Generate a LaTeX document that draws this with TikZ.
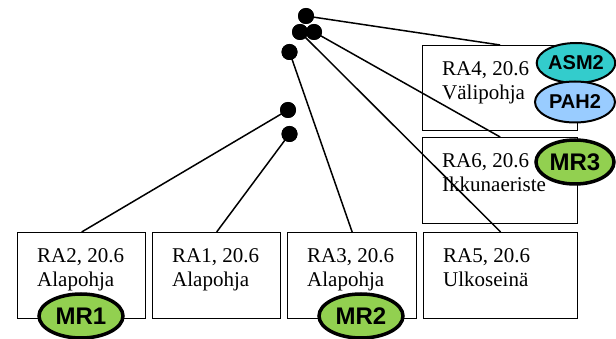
\documentclass[tikz,border=0pt]{standalone}
\usepackage{fontspec}
\setmainfont{Liberation Serif}
\newfontfamily\arialf{Liberation Sans}
\usetikzlibrary{shapes.geometric}
\definecolor{tealfill}{RGB}{51,204,204}
\definecolor{lbluefill}{RGB}{153,204,255}
\definecolor{mrgreen}{RGB}{146,208,80}
\begin{document}
\begin{tikzpicture}[x=1pt,y=-1pt,
  boxnode/.style={draw,line width=1.3pt,anchor=north west,inner sep=0pt},
  lbl/.style={anchor=base west,align=left,inner sep=0pt,font=\fontsize{21}{24}\selectfont},
  dotnode/.style={circle,fill=black,inner sep=0pt,minimum size=16pt},
  conn/.style={line width=1.5pt},
  smallell/.style={ellipse,draw,line width=2pt,inner sep=0pt,font=\arialf\bfseries\fontsize{20}{20}\selectfont},
  mrell/.style={ellipse,draw,line width=3.5pt,fill=mrgreen,inner sep=0pt,minimum width=84pt,minimum height=44pt,font=\arialf\bfseries\fontsize{24}{24}\selectfont}]
\useasboundingbox (0,0) rectangle (616,339);
% boxes
\node[boxnode,minimum width=155pt,minimum height=85pt] (ra4) at (422,45) {};
\node[boxnode,minimum width=155pt,minimum height=86pt] (ra6) at (422,137) {};
\node[boxnode,minimum width=154pt,minimum height=86pt] (ra5) at (423,232) {};
\node[boxnode,minimum width=129pt,minimum height=86pt] (ra3) at (287,232) {};
\node[boxnode,minimum width=128pt,minimum height=86pt] (ra1) at (152,232) {};
\node[boxnode,minimum width=128pt,minimum height=86pt] (ra2) at (17,232) {};
% labels (anchor at baseline of last line)
\node[lbl] (t4) at (442,100) {RA4, 20.6\\Välipohja};
\node[lbl] (t6) at (442,192) {RA6, 20.6\\Ikkunaeriste};
\node[lbl] (t5) at (443,287) {RA5, 20.6\\Ulkoseinä};
\node[lbl] (t3) at (307,287) {RA3, 20.6\\Alapohja};
\node[lbl] (t1) at (172,287) {RA1, 20.6\\Alapohja};
\node[lbl] (t2) at (37,287) {RA2, 20.6\\Alapohja};
% dots
\node[dotnode] (d1) at (306,16) {};
\node[dotnode] (d2) at (300,32) {};
\node[dotnode] (d3) at (314,32) {};
\node[dotnode] (d4) at (289.5,52) {};
\node[dotnode] (d5) at (288,110) {};
\node[dotnode] (d6) at (289.5,134) {};
% connectors
\draw[conn] (d1.center) -- (ra4.north);
\draw[conn] (d3.center) -- (ra6.north);
\draw[conn] (d2.center) -- (ra5.north);
\draw[conn] (d4.center) -- (ra3.north);
\draw[conn] (d5.center) -- (ra2.north);
\draw[conn] (d6.center) -- (ra1.north);
\node[dotnode] at (d1) {};
\node[dotnode] at (d2) {};
\node[dotnode] at (d3) {};
\node[dotnode] at (d4) {};
\node[dotnode] at (d5) {};
\node[dotnode] at (d6) {};
% ellipses
\node[smallell,fill=tealfill,minimum width=77pt,minimum height=40pt] (asm2) at (576,63) {ASM2};
\node[smallell,fill=lbluefill,minimum width=80pt,minimum height=41pt] (pah2) at (575,102) {PAH2};
\node[mrell,minimum width=78pt] (mr3) at (575,162) {MR3};
\node[mrell] (mr1) at (81,316) {MR1};
\node[mrell] (mr2) at (361,316) {MR2};
\end{tikzpicture}
\end{document}
